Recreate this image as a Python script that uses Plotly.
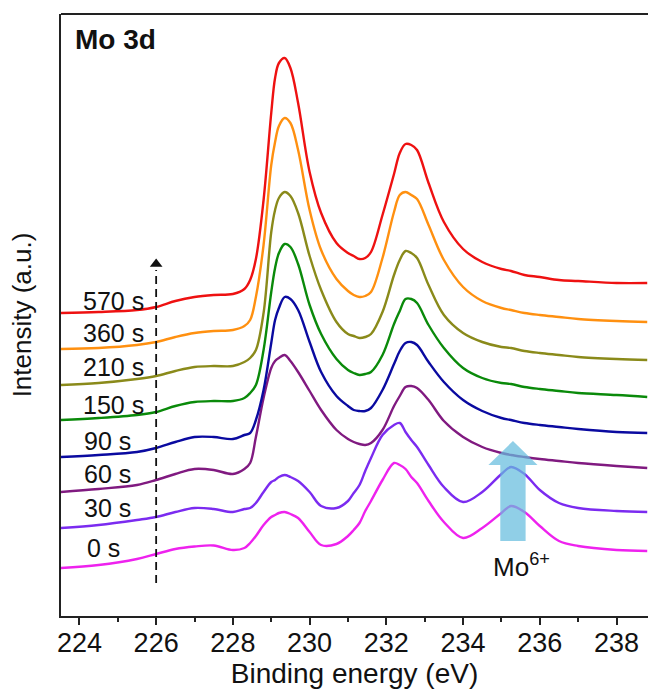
import plotly.graph_objects as go

# Binding energy grid (eV) shared by all spectra
energy = [223.5, 224.5, 225.5, 226.0, 226.5, 227.0, 227.5, 228.0, 228.3, 228.45,
          228.6, 228.8, 229.0, 229.1, 229.2, 229.35, 229.5, 229.7, 230.0, 230.3,
          230.7, 231.0, 231.15, 231.3, 231.45, 231.6, 231.9, 232.2, 232.35, 232.5,
          232.65, 232.8, 233.1, 233.5, 234.0, 234.5, 235.0, 235.25, 235.6, 236.0,
          236.5, 237.0, 238.0, 238.8]

# Stacked Mo 3d intensities (a.u., offset), one list per sputtering time
i_0s = [48, 51, 57, 62, 67, 69.5, 70.5, 66, 68, 73,
        80, 91, 99, 101, 103, 104, 102, 98, 84, 71,
        72, 80, 86, 93, 105, 115, 136, 153, 151, 147,
        139, 133, 115, 94, 78, 88, 103, 110, 104, 90,
        75, 70, 66, 65]
i_30s = [88, 91, 96, 99, 104, 108, 107, 104, 107, 108,
         113, 124, 134, 136, 139, 141, 139, 135, 124, 110,
         108, 115, 123, 131, 145, 158, 181, 191, 193, 184,
         176, 169, 151, 129, 114, 124, 142, 149, 142, 126,
         113, 108, 105, 104]
i_60s = [124, 127, 131, 136, 142, 147, 146, 142, 147, 153,
         179, 218, 248, 255, 258, 261, 255, 244, 225, 206,
         186, 177, 174, 172, 171, 173, 186, 210, 220, 229,
         230, 228, 216, 195, 179, 169, 163, 161, 159, 157,
         155, 153, 150, 148]
i_90s = [159, 161, 164, 168, 174, 179, 179, 177, 181, 183,
         196, 226, 273, 296, 308, 319, 317, 306, 274, 244,
         220, 210, 206, 205, 205, 208, 226, 252, 265, 273,
         274, 271, 254, 234, 216, 205, 198, 196, 193, 191,
         189, 187, 184, 183]
i_150s = [196, 198, 201, 204, 210, 214, 215, 215, 218, 223,
          231, 266, 324, 348, 363, 372, 369, 352, 311, 282,
          257, 246, 243, 241, 242, 244, 261, 292, 305, 317,
          317, 313, 291, 268, 248, 238, 233, 232, 229, 227,
          225, 223, 221, 219]
i_210s = [231, 233, 237, 240, 245, 249, 250, 250, 254, 258,
          266, 303, 384, 406, 418, 424, 420, 403, 360, 326,
          294, 282, 280, 278, 279, 282, 304, 341, 356, 365,
          363, 358, 331, 301, 283, 274, 269, 268, 265, 263,
          261, 259, 257, 256]
i_360s = [267, 268, 271, 274, 279, 283, 285, 286, 290, 296,
          319, 371, 451, 474, 490, 498, 493, 466, 406, 366,
          337, 325, 321, 319, 320, 324, 358, 404, 421, 424,
          421, 417, 391, 356, 329, 315, 308, 306, 303, 301,
          299, 297, 295, 294]
i_570s = [303, 304, 306, 309, 315, 319, 321, 322, 327, 336,
          357, 416, 503, 538, 553, 558, 548, 513, 444, 403,
          373, 363, 360, 357, 358, 364, 401, 442, 463, 472,
          471, 466, 433, 394, 367, 354, 347, 345, 341, 339,
          336, 335, 333, 333]

times = ["0 s", "30 s", "60 s", "90 s", "150 s", "210 s", "360 s", "570 s"]
spectra = [i_0s, i_30s, i_60s, i_90s, i_150s, i_210s, i_360s, i_570s]
colors = ["#EE22EE", "#7B2BF0", "#801A80", "#0A0AA0",
          "#0A8A0A", "#8A8A1A", "#FF9010", "#EE1111"]

# Label anchor positions (left edge energy, intensity level)
label_x = [224.14, 224.06, 224.06, 224.06, 224.04, 224.04, 224.04, 224.04]
label_y = [68, 108, 142, 175, 211, 249, 283, 315]

# Guide arrow along 226 eV and Mo6+ marker arrow
guide_x = 226.0
guide_y = [33, 346]
guide_tip = 352
mo6_x = 235.3
mo6_base, mo6_neck, mo6_tip = 75, 151, 175
mo6_shaft_hw, mo6_head_hw = 0.33, 0.64

FONT = "Liberation Sans, Arial, sans-serif"

fig = go.Figure()

for t, y, c in zip(times, spectra, colors):
    fig.add_trace(go.Scatter(
        x=energy, y=y, mode="lines", name=t,
        line=dict(color=c, width=2.4, shape="spline", smoothing=1.0),
        showlegend=False, hoverinfo="skip"))

# dashed guide with arrow head
fig.add_trace(go.Scatter(
    x=[guide_x, guide_x], y=guide_y, mode="lines",
    line=dict(color="#111111", width=1.8, dash="8px,5px"),
    showlegend=False, hoverinfo="skip"))
fig.add_trace(go.Scatter(
    x=[guide_x], y=[guide_tip], mode="markers",
    marker=dict(symbol="triangle-up", size=11, color="#111111"),
    showlegend=False, hoverinfo="skip"))

# translucent block arrow for the Mo6+ component
ax = [mo6_x - mo6_shaft_hw, mo6_x - mo6_shaft_hw, mo6_x - mo6_head_hw, mo6_x,
      mo6_x + mo6_head_hw, mo6_x + mo6_shaft_hw, mo6_x + mo6_shaft_hw, mo6_x - mo6_shaft_hw]
ay = [mo6_base, mo6_neck, mo6_neck, mo6_tip, mo6_neck, mo6_neck, mo6_base, mo6_base]
fig.add_trace(go.Scatter(
    x=ax, y=ay, mode="lines", fill="toself",
    fillcolor="rgba(101,188,222,0.72)", line=dict(width=0),
    showlegend=False, hoverinfo="skip"))

annotations = []
for t, lx, ly in zip(times, label_x, label_y):
    annotations.append(dict(x=lx, y=ly, text=t, showarrow=False, xanchor="left",
                            yanchor="middle", font=dict(size=25, color="#111111", family=FONT)))
annotations.append(dict(x=223.83, y=577, text="<b>Mo 3d</b>", showarrow=False,
                        xanchor="left", yanchor="middle",
                        font=dict(size=28, color="#111111", family=FONT)))
annotations.append(dict(x=235.51, y=51, text="Mo<sup>6+</sup>", showarrow=False,
                        xanchor="center", yanchor="middle",
                        font=dict(size=26, color="#111111", family=FONT)))

fig.update_layout(
    width=648, height=691,
    margin=dict(l=61, r=0, t=14, b=75),
    paper_bgcolor="white", plot_bgcolor="white",
    font=dict(family=FONT, color="#111111"),
    annotations=annotations,
    shapes=[dict(type="line", xref="paper", yref="paper", x0=0, x1=1, y0=1, y1=1,
                 line=dict(color="#222222", width=2))],
    xaxis=dict(range=[223.52, 238.82], showline=True, linecolor="#222222", linewidth=2,
               mirror=False, showgrid=False, zeroline=False,
               tickmode="linear", tick0=224, dtick=2, ticks="outside", ticklen=7,
               tickwidth=1.5, tickcolor="#222222", ticklabelstandoff=-5,
               minor=dict(tickmode="linear", tick0=225, dtick=2, ticks="outside",
                          ticklen=4, tickwidth=1.5, tickcolor="#222222"),
               tickfont=dict(size=27, family=FONT, color="#111111"),
               title=dict(text="Binding energy (eV)", standoff=4,
                          font=dict(size=28, family=FONT, color="#111111"))),
    yaxis=dict(range=[0, 602], showline=True, linecolor="#222222", linewidth=2,
               mirror=False, showgrid=False, zeroline=False, showticklabels=False,
               ticks="",
               title=dict(text="Intensity (a.u.)", standoff=20,
                          font=dict(size=26, family=FONT, color="#111111"))),
)

fig.write_html("out.html")
